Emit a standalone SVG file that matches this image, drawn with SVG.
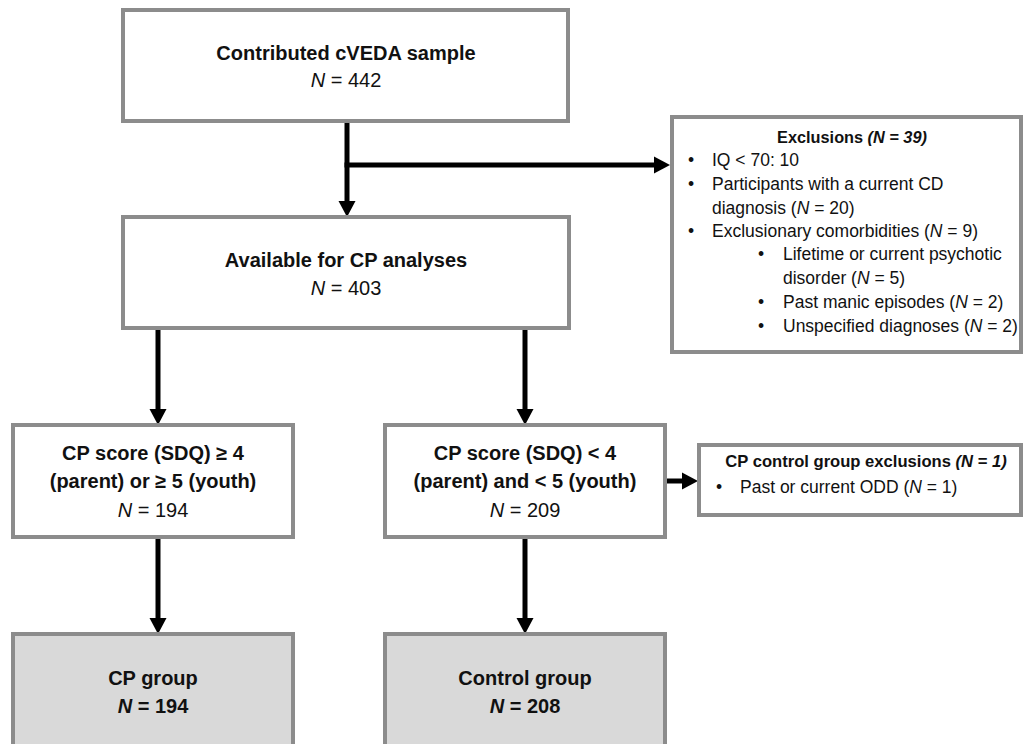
<svg xmlns="http://www.w3.org/2000/svg" width="1024" height="744" viewBox="0 0 1024 744">
<style>
.box{fill:#ffffff;stroke:#8c8c8c;stroke-width:4}
.gbox{fill:#d9d9d9;stroke:#8c8c8c;stroke-width:4}
.t{font-family:"Liberation Sans",Arial,sans-serif;font-size:20px;fill:#111;text-anchor:middle}
.b{font-weight:bold}
.s{font-family:"Liberation Sans",Arial,sans-serif;font-size:17.5px;fill:#111}
.st{font-family:"Liberation Sans",Arial,sans-serif;font-size:16.3px;font-weight:bold;fill:#111;text-anchor:middle}
.i{font-style:italic}
.c{fill:none;stroke:#000;stroke-width:5;marker-end:url(#ah)}
</style>
<defs>
<marker id="ah" markerUnits="userSpaceOnUse" markerWidth="18" markerHeight="18" refX="0" refY="8.5" orient="auto" overflow="visible">
<path d="M0,0 L16,8.5 L0,17 z" fill="#000"/>
</marker>
</defs>
<rect x="0" y="0" width="1024" height="744" fill="#ffffff"/>
<g id="connectors">
<path class="c" d="M347,121 V201"/>
<path class="c" d="M344.5,165 H654"/>
<path class="c" d="M158,328 V409"/>
<path class="c" d="M525,328 V409"/>
<path class="c" d="M158,537 V618"/>
<path class="c" d="M525,537 V618"/>
<path class="c" d="M665,481 H682"/>
</g>
<g id="contributed">
<rect class="box" x="123" y="10" width="445" height="111"/>
<text class="t b" x="346" y="60">Contributed cVEDA sample</text>
<text class="t" x="346" y="87"><tspan class="i">N</tspan> = 442</text>
</g>
<g id="available">
<rect class="box" x="123" y="217" width="446" height="111"/>
<text class="t b" x="346" y="267">Available for CP analyses</text>
<text class="t" x="346" y="295"><tspan class="i">N</tspan> = 403</text>
</g>
<g id="exclusions">
<rect class="box" x="672" y="117" width="349" height="235"/>
<text class="st" x="852" y="143">Exclusions <tspan class="i">(N = 39)</tspan></text>
<text class="s" x="688" y="166">•</text><text class="s" x="712" y="166">IQ &lt; 70: 10</text>
<text class="s" x="688" y="190">•</text><text class="s" x="712" y="190">Participants with a current CD</text>
<text class="s" x="712" y="214">diagnosis (<tspan class="i">N</tspan> = 20)</text>
<text class="s" x="688" y="237">•</text><text class="s" x="712" y="237">Exclusionary comorbidities (<tspan class="i">N</tspan> = 9)</text>
<text class="s" x="758" y="260">•</text><text class="s" x="783" y="260">Lifetime or current psychotic</text>
<text class="s" x="783" y="284">disorder (<tspan class="i">N</tspan> = 5)</text>
<text class="s" x="758" y="308">•</text><text class="s" x="783" y="308">Past manic episodes (<tspan class="i">N</tspan> = 2)</text>
<text class="s" x="758" y="332">•</text><text class="s" x="783" y="332">Unspecified diagnoses (<tspan class="i">N</tspan> = 2)</text>
</g>
<g id="cp-score-high">
<rect class="box" x="13" y="425" width="280" height="112"/>
<text class="t b" x="153" y="460">CP score (SDQ) ≥ 4</text>
<text class="t b" x="153" y="488">(parent) or ≥ 5 (youth)</text>
<text class="t" x="153" y="517"><tspan class="i">N</tspan> = 194</text>
</g>
<g id="cp-score-low">
<rect class="box" x="385" y="425" width="280" height="112"/>
<text class="t b" x="525" y="460">CP score (SDQ) &lt; 4</text>
<text class="t b" x="525" y="488">(parent) and &lt; 5 (youth)</text>
<text class="t" x="525" y="517"><tspan class="i">N</tspan> = 209</text>
</g>
<g id="control-exclusions">
<rect class="box" x="699" y="445" width="322" height="70"/>
<text class="st" x="866" y="467" style="font-size:16.6px">CP control group exclusions <tspan class="i">(N = 1)</tspan></text>
<text class="s" x="716" y="493">•</text><text class="s" x="740" y="493">Past or current ODD (<tspan class="i">N</tspan> = 1)</text>
</g>
<g id="cp-group">
<rect class="gbox" x="13" y="634" width="280" height="130"/>
<text class="t b" x="153" y="685">CP group</text>
<text class="t b" x="153" y="713"><tspan class="i">N</tspan> = 194</text>
</g>
<g id="control-group">
<rect class="gbox" x="385" y="634" width="280" height="130"/>
<text class="t b" x="525" y="685">Control group</text>
<text class="t b" x="525" y="713"><tspan class="i">N</tspan> = 208</text>
</g>
</svg>
